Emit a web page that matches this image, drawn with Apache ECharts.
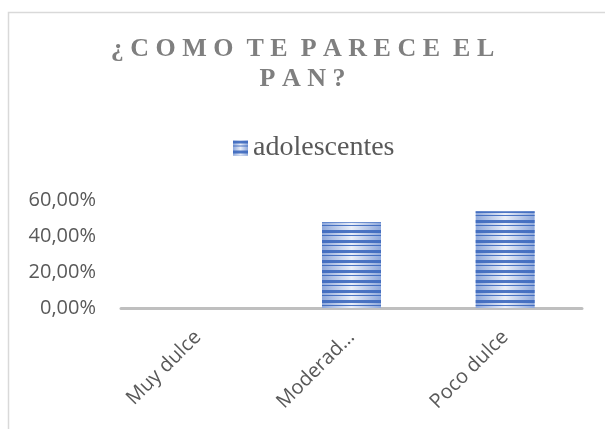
<!DOCTYPE html>
<html>
<head>
<meta charset="utf-8">
<script src="https://cdn.jsdelivr.net/npm/echarts@6/dist/echarts.min.js"></script>
<style>
html,body{margin:0;padding:0;background:#fff;}
#c{width:605px;height:429px;}
</style>
</head>
<body>
<div id="c"></div>
<script>
const TITLE_LINES = ['¿COMO TE PARECE EL', 'PAN?'];
const SERIES_NAME = 'adolescentes';
const categories = ['Muy dulce', 'Moderadamente dulce', 'Poco dulce'];
const values = [0, 47.6, 53.8];
const yTicks = [0, 20, 40, 60];

// spread letters (Excel-style character spacing) via rich-text padding
const spaced = TITLE_LINES.map(l => l.split('').map(c => c === ' ' ? '{s| }' : '{l|' + c + '}').join('')).join('\n');
const titleFont = {fontFamily: 'Liberation Serif', fontWeight: 'bold', fontSize: 26, color: '#7f7f7f', lineHeight: 30};
const chart = echarts.init(document.getElementById('c'), null, {renderer: 'canvas'});
const barColor = {
  type: 'linear', x: 0, y: 0, x2: 1, y2: 0,
  colorStops: [
    {offset: 0, color: '#8ea8db'},
    {offset: 0.5, color: '#e9eef8'},
    {offset: 1, color: '#8ea8db'}
  ]
};
chart.setOption({
  animation: false,
  aria: {enabled: true, decal: {show: true}},
  graphic: [{
    type: 'rect', shape: {x: 8.5, y: 12.5, width: 640, height: 460},
    style: {fill: 'none', stroke: '#d9d9d9', lineWidth: 1.5}, silent: true
  }],
  title: {
    text: spaced,
    left: 'center', top: 29,
    textStyle: Object.assign({}, titleFont, {
      rich: {
        l: Object.assign({}, titleFont, {padding: [0, 3.25, 0, 3.25]}),
        s: Object.assign({}, titleFont)
      }
    })
  },
  legend: {
    top: 129, left: 228,
    itemWidth: 15, itemHeight: 15, itemGap: 8,
    icon: 'rect',
    textStyle: {fontFamily: 'Liberation Serif', fontSize: 28, color: '#595959'},
    data: [SERIES_NAME]
  },
  grid: {left: 121, right: 23, top: 200, bottom: 121, containLabel: false},
  xAxis: {
    type: 'category', data: categories,
    axisLine: {lineStyle: {color: '#bfbfbf', width: 3}},
    axisTick: {show: false},
    axisLabel: {
      rotate: 45, interval: 0, margin: 26,
      fontFamily: 'Open Sans', fontSize: 20, color: '#595959',
      width: 118, overflow: 'truncate', ellipsis: '...'
    }
  },
  yAxis: {
    type: 'value', min: 0, max: 60, interval: 20,
    splitLine: {show: false},
    axisLine: {show: false}, axisTick: {show: false},
    axisLabel: {
      margin: 25, fontFamily: 'Open Sans', fontSize: 20, color: '#595959',
      formatter: v => yTicks.includes(v) ? v.toFixed(2).replace('.', ',') + '%' : ''
    }
  },
  series: [{
    name: SERIES_NAME, type: 'bar', data: values, barWidth: 59,
    itemStyle: {
      color: barColor,
      decal: {
        symbol: 'rect', symbolSize: 1, rotation: 0,
        dashArrayX: [[1, 0]], dashArrayY: [3, 2, 1, 4],
        color: 'rgba(60,104,190,0.9)'
      }
    }
  }]
});
</script>
</body>
</html>
